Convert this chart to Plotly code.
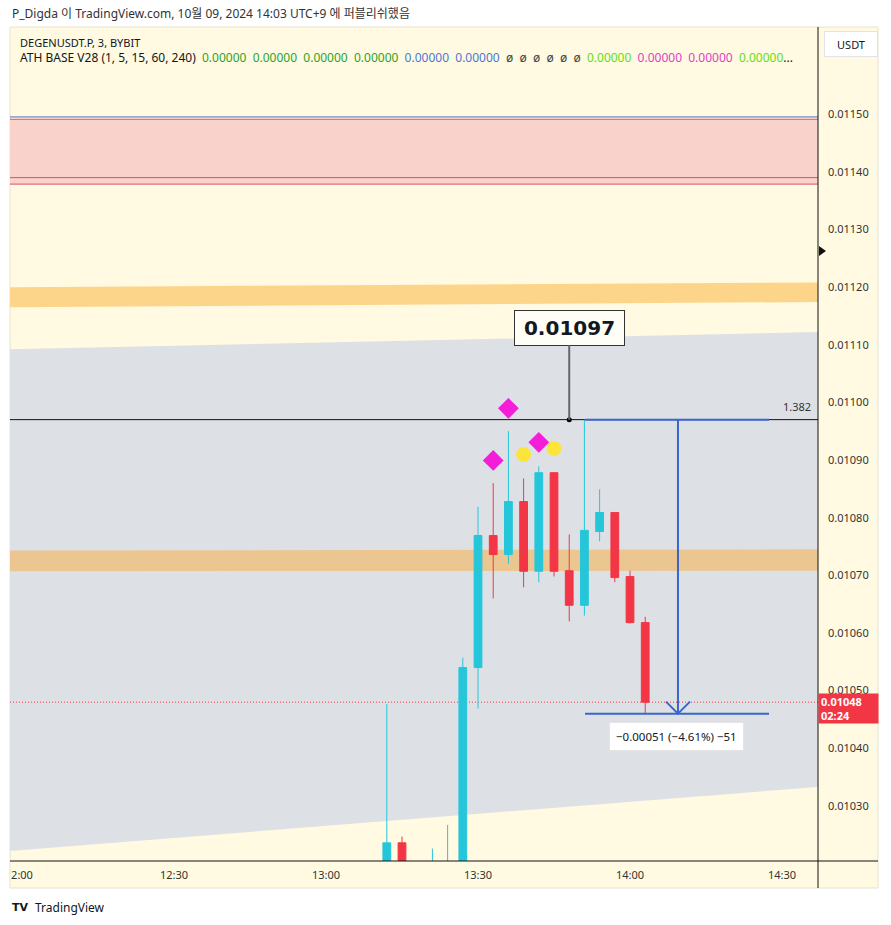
import plotly.graph_objects as go

# ---------------- data ----------------
day = "2024-10-09 "
times = ["13:12", "13:15", "13:18", "13:21", "13:24", "13:27", "13:30", "13:33", "13:36",
         "13:39", "13:42", "13:45", "13:48", "13:51", "13:54", "13:57", "14:00", "14:03"]
opens = [0.01018, 0.010236, 0.01018, 0.01019, 0.01019, 0.01020, 0.01054, 0.010769, 0.010736,
         0.010828, 0.010707, 0.010878, 0.010708, 0.010648, 0.010776, 0.010809, 0.010698, 0.010618]
highs = [0.010477, 0.010247, 0.01020, 0.010226, 0.010267, 0.010557, 0.010819, 0.01086, 0.01095,
         0.010868, 0.010889, 0.010878, 0.010771, 0.01097, 0.010849, 0.010809, 0.010708, 0.010628]
lows = [0.01017, 0.01017, 0.01016, 0.01018, 0.01018, 0.01019, 0.010469, 0.01066, 0.01072,
        0.010679, 0.010688, 0.010698, 0.01062, 0.01063, 0.010759, 0.010688, 0.010616, 0.01046]
closes = [0.010236, 0.01018, 0.01019, 0.01020, 0.01020, 0.01054, 0.010769, 0.010736, 0.010828,
          0.010707, 0.010878, 0.010707, 0.010648, 0.010778, 0.010809, 0.010696, 0.010618, 0.01048]

diamond_times = ["13:33", "13:36", "13:42"]
diamond_prices = [0.0108993, 0.0109896, 0.0109306]
circle_times = ["13:39", "13:45"]
circle_prices = [0.0109097, 0.0109201]

# zones (price levels, left edge / right edge)
red_zone = [0.0113785, 0.011491]
red_lines = [0.011491, 0.01138976, 0.0113785]
blue_top_line = 0.011495
upper_band_left = [0.011165, 0.0111997]
upper_band_right = [0.011174, 0.011208]
gray_top = [0.011092, 0.011122]
gray_bottom = [0.010222, 0.010333]
mid_band_left = [0.010707, 0.010743]
mid_band_right = [0.010708, 0.010745]

fib_level = 0.01097
fib_label = "1.382"
last_price = 0.01048
callout_time = "13:48"
callout_text = "0.01097"

measure_start = "13:51:07"
measure_end = "14:27:26"
measure_mid = "14:09:28"
measure_high = 0.01097
measure_low = 0.01046
measure_text = "\u22120.00051 (\u22124.61%) \u221251"

xtick_vals = ["12:00", "12:30", "13:00", "13:30", "14:00", "14:30"]
xtick_text = ["2:00", "12:30", "13:00", "13:30", "14:00", "14:30"]
ytick_vals = [0.0103, 0.0104, 0.0105, 0.0106, 0.0107, 0.0108, 0.0109, 0.0110,
              0.0111, 0.0112, 0.0113, 0.0114, 0.0115]
x_range = ["11:57:38", "14:37:06"]
y_range = [0.0102045, 0.011651]

# ---------------- style ----------------
W, H = 891, 925
ML, MR, MT, MB = 10, 73, 27, 64
PW, PH = W - ML - MR, H - MT - MB
CREAM = "#FFFAE1"
UP = "#26C6DA"
DOWN = "#F23645"
BLUE = "#3A66CC"
FONT = "Noto Sans, Noto Sans CJK KR, DejaVu Sans"


def px(X):
    return (X - ML) / PW


def py(Y):
    return (H - MB - Y) / PH


def T(t):
    return day + t


fig = go.Figure()

fig.add_trace(go.Candlestick(
    x=[T(t) for t in times], open=opens, high=highs, low=lows, close=closes,
    increasing=dict(line=dict(color=UP, width=1), fillcolor=UP),
    decreasing=dict(line=dict(color=DOWN, width=1), fillcolor=DOWN),
    whiskerwidth=0, showlegend=False, hoverinfo="skip"))

fig.add_trace(go.Scatter(
    x=[T(t) for t in diamond_times], y=diamond_prices, mode="markers",
    marker=dict(symbol="diamond", size=16, color="#F41ED8"), showlegend=False))
fig.add_trace(go.Scatter(
    x=[T(t) for t in circle_times], y=circle_prices, mode="markers",
    marker=dict(symbol="circle", size=15, color="#FBE53B"), showlegend=False))

# callout dot
fig.add_trace(go.Scatter(
    x=[T(callout_time)], y=[fib_level], mode="markers",
    marker=dict(size=5, color="black"), showlegend=False))

# measurement lines
fig.add_trace(go.Scatter(
    x=[T(measure_start), T(measure_end)], y=[measure_high, measure_high], mode="lines",
    line=dict(color=BLUE, width=2), showlegend=False))
fig.add_trace(go.Scatter(
    x=[T(measure_start), T(measure_end)], y=[measure_low, measure_low], mode="lines",
    line=dict(color=BLUE, width=2), showlegend=False))
fig.add_trace(go.Scatter(
    x=[T(measure_mid), T(measure_mid)], y=[measure_high, measure_low], mode="lines",
    line=dict(color=BLUE, width=2), showlegend=False))
fig.add_trace(go.Scatter(
    x=[T("14:07:06"), T(measure_mid), T("14:11:50")],
    y=[measure_low + 0.000021, measure_low, measure_low + 0.000021], mode="lines",
    line=dict(color=BLUE, width=2), showlegend=False))

shapes = []
# cream panel (plot + axes area)
shapes.append(dict(type="rect", xref="paper", yref="paper", x0=0, x1=px(878), y0=py(888), y1=1,
                   fillcolor=CREAM, line=dict(color="#E6E3D0", width=1), layer="below"))
# red zone
shapes.append(dict(type="rect", xref="paper", yref="y", x0=0, x1=1, y0=red_zone[0], y1=red_zone[1],
                   fillcolor="#F9D2CC", line=dict(width=0), layer="below"))
for lv in red_lines:
    shapes.append(dict(type="line", xref="paper", yref="y", x0=0, x1=1, y0=lv, y1=lv,
                       line=dict(color="#D9506A", width=1), layer="below"))
shapes.append(dict(type="line", xref="paper", yref="y", x0=0, x1=1, y0=blue_top_line, y1=blue_top_line,
                   line=dict(color="#4A6CC8", width=1), layer="below"))
# upper orange band
shapes.append(dict(type="path", xref="paper", yref="y",
                   path=f"M0,{upper_band_left[0]} L1,{upper_band_right[0]} L1,{upper_band_right[1]} L0,{upper_band_left[1]} Z",
                   fillcolor="#FDD58A", line=dict(width=0), layer="below"))
# gray trapezoid
shapes.append(dict(type="path", xref="paper", yref="y",
                   path=f"M0,{gray_top[0]} L1,{gray_top[1]} L1,{gray_bottom[1]} L0,{gray_bottom[0]} Z",
                   fillcolor="#DDE1E6", line=dict(width=0), layer="below"))
# middle band
shapes.append(dict(type="path", xref="paper", yref="y",
                   path=f"M0,{mid_band_left[0]} L1,{mid_band_right[0]} L1,{mid_band_right[1]} L0,{mid_band_left[1]} Z",
                   fillcolor="#EBC690", line=dict(width=0), layer="below"))
# fib line
shapes.append(dict(type="line", xref="paper", yref="y", x0=0, x1=1, y0=fib_level, y1=fib_level,
                   line=dict(color="#111111", width=1), layer="below"))
# last price dotted
shapes.append(dict(type="line", xref="paper", yref="y", x0=0, x1=1, y0=last_price, y1=last_price,
                   line=dict(color=DOWN, width=1, dash="1px,2px"), layer="below"))
# axis lines
shapes.append(dict(type="line", xref="paper", yref="paper", x0=0, x1=px(878), y0=0, y1=0,
                   line=dict(color="#111111", width=1)))
shapes.append(dict(type="line", xref="paper", yref="paper", x0=1, x1=1, y0=py(888), y1=1,
                   line=dict(color="#111111", width=1)))
# right-axis marker triangle
shapes.append(dict(type="path", xref="paper", yref="paper",
                   path=f"M{px(819)},{py(246)} L{px(826)},{py(251)} L{px(819)},{py(256)} Z",
                   fillcolor="#111111", line=dict(width=0)))

annotations = []
annotations.append(dict(xref="paper", yref="paper", x=px(10), y=py(13), xanchor="left", yanchor="middle",
                        text="P_Digda 이 TradingView.com, 10월 09, 2024 14:03 UTC+9 에 퍼블리쉬했음",
                        showarrow=False, font=dict(family=FONT, size=12, color="#333333")))
annotations.append(dict(xref="paper", yref="paper", x=px(18), y=py(42), xanchor="left", yanchor="middle",
                        text="DEGENUSDT.P, 3, BYBIT", showarrow=False,
                        font=dict(family=FONT, size=11, color="#131722")))
G, B, L, M = "#2AA52A", "#4A78D8", "#66DD11", "#E040C8"
legend_line = ("ATH BASE V28 (1, 5, 15, 60, 240)  "
               + "  ".join(f"<span style='color:{G}'>0.00000</span>" for _ in range(4)) + "  "
               + "  ".join(f"<span style='color:{B}'>0.00000</span>" for _ in range(2)) + "  "
               + "<span style='color:#444'>ø  ø  ø  ø  ø  ø</span>  "
               + f"<span style='color:{L}'>0.00000</span>  "
               + f"<span style='color:{M}'>0.00000</span>  <span style='color:{M}'>0.00000</span>  "
               + f"<span style='color:{L}'>0.00000</span>...")
annotations.append(dict(xref="paper", yref="paper", x=px(18), y=py(58), xanchor="left", yanchor="middle",
                        text=legend_line, showarrow=False, font=dict(family=FONT, size=12, color="#131722")))
# USDT box
annotations.append(dict(xref="paper", yref="paper", x=px(850.5), y=py(44.5), xanchor="center", yanchor="middle",
                        text="USDT", showarrow=False, bgcolor="white", bordercolor="#E0E3EB", borderwidth=1,
                        width=50, height=22, font=dict(family=FONT, size=11, color="#131722")))
# last price box
annotations.append(dict(xref="paper", yref="y", x=px(818), y=last_price, xanchor="left", yanchor="middle",
                        yshift=-6, text="<b>0.01048</b><br><b>02:24</b>", align="left", showarrow=False,
                        bgcolor=DOWN, borderpad=2, width=55, height=25,
                        font=dict(family=FONT, size=11, color="white")))
# fib label
annotations.append(dict(xref="paper", yref="y", x=px(797), y=fib_level, yshift=13, xanchor="center",
                        yanchor="middle", text=fib_label, showarrow=False,
                        font=dict(family=FONT, size=11, color="#333333")))
# callout
annotations.append(dict(xref="x", yref="y", x=T(callout_time), y=fib_level, ax=0, ay=-92,
                        text="<b>" + callout_text + "</b>", showarrow=True, arrowhead=0, arrowwidth=2,
                        arrowcolor="#666666", standoff=0, bgcolor="#FFFEF6", bordercolor="#333333",
                        borderwidth=1, borderpad=5, width=99,
                        font=dict(family="DejaVu Sans", size=20, color="#131722")))
# measurement label
annotations.append(dict(xref="x", yref="y", x=T("14:09:05"), y=measure_low, yshift=-23,
                        xanchor="center", yanchor="middle", text=measure_text, showarrow=False,
                        bgcolor="white", bordercolor="#E4E4E4", borderwidth=1, borderpad=6,
                        font=dict(family=FONT, size=11.5, color="#131722")))
# footer
annotations.append(dict(xref="paper", yref="paper", x=px(10), y=py(907), xanchor="left", yanchor="middle",
                        text="<b>TV</b>", showarrow=False, font=dict(family="DejaVu Sans", size=11, color="#131722")))
annotations.append(dict(xref="paper", yref="paper", x=px(33), y=py(907), xanchor="left", yanchor="middle",
                        text="TradingView", showarrow=False, font=dict(family=FONT, size=12, color="#131722")))

fig.update_layout(
    width=W, height=H, margin=dict(l=ML, r=MR, t=MT, b=MB, pad=0),
    paper_bgcolor="white", plot_bgcolor=CREAM, boxgap=0.27,
    shapes=shapes, annotations=annotations, showlegend=False,
    font=dict(family=FONT, size=11, color="#333333"),
    xaxis=dict(type="date", range=[T(x_range[0]), T(x_range[1])], rangeslider=dict(visible=False),
               tickvals=[T(t) for t in xtick_vals], ticktext=xtick_text, showgrid=False, zeroline=False,
               showline=False, ticks="", ticklabelstandoff=6,
               tickfont=dict(family=FONT, size=11, color="#333333")),
    yaxis=dict(side="right", range=y_range, tickvals=ytick_vals, tickformat=".5f", showgrid=False,
               zeroline=False, showline=False, ticks="", ticklabelstandoff=9,
               tickfont=dict(family=FONT, size=11, color="#333333")),
)

fig.write_html("out.html")
